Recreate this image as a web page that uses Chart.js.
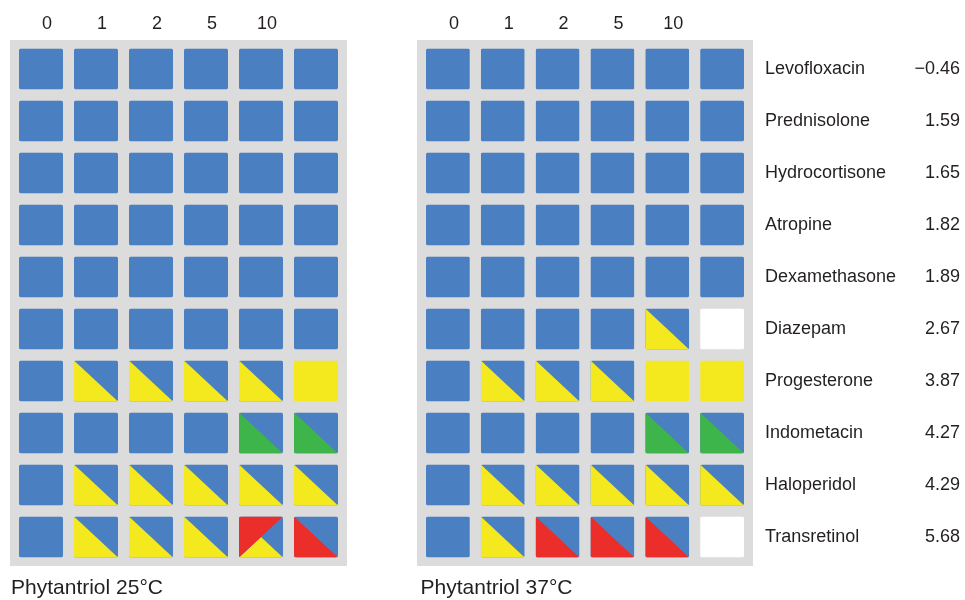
<!DOCTYPE html>
<html>
<head>
<meta charset="utf-8">
<script src="https://cdn.jsdelivr.net/npm/chart.js@4.4.1/dist/chart.umd.min.js"></script>
<style>
  body { margin: 0; background: #fff; }
  .panel { position: absolute; top: 0; height: 600px; }
</style>
</head>
<body>
<div class="panel" style="left:0;width:357px"><canvas id="p25"></canvas></div>
<div class="panel" style="left:400px;width:565px"><canvas id="p37"></canvas></div>
<script>
// column headers (drug concentration)
var concentrations = ["0", "1", "2", "5", "10", ""];
var drugs = [
  "Levofloxacin", "Prednisolone", "Hydrocortisone", "Atropine", "Dexamethasone",
  "Diazepam", "Progesterone", "Indometacin", "Haloperidol", "Transretinol"
];
var logP = ["\u22120.46", "1.59", "1.65", "1.82", "1.89", "2.67", "3.87", "4.27", "4.29", "5.68"];

// phase per cell: B blue, Y yellow/blue, G green/blue, R red/blue,
// Q red/yellow/blue, F all yellow, W white
var phases25 = [
  "BBBBBB", "BBBBBB", "BBBBBB", "BBBBBB", "BBBBBB",
  "BBBBBB", "BYYYYF", "BBBBGG", "BYYYYY", "BYYYQR"
];
var phases37 = [
  "BBBBBB", "BBBBBB", "BBBBBB", "BBBBBB", "BBBBBB",
  "BBBBYW", "BYYYFF", "BBBBGG", "BYYYYY", "BYRRRW"
];

var BLUE = "#4a7fc1", YELLOW = "#f4e91e", GREEN = "#3db54a", RED = "#eb2e2a";
var GRAY = "#dcdcdc", TEXT = "#231f20";
var FONT = "'Liberation Sans', Arial, sans-serif";

// category scales want the label strings, not indices
function toPoints(rows) {
  var pts = [];
  rows.forEach(function (row, r) {
    row.split("").forEach(function (s, c) {
      pts.push({ x: concentrations[c], y: drugs[r], s: s });
    });
  });
  return pts;
}

function tri(ctx, pts, color) {
  ctx.beginPath();
  ctx.moveTo(pts[0][0], pts[0][1]);
  ctx.lineTo(pts[1][0], pts[1][1]);
  ctx.lineTo(pts[2][0], pts[2][1]);
  ctx.closePath();
  ctx.fillStyle = color;
  ctx.fill();
}

function drawCell(ctx, cx, cy, w, h, s) {
  var l = cx - w / 2, t = cy - h / 2, r = cx + w / 2, b = cy + h / 2;
  ctx.save();
  ctx.beginPath();
  ctx.roundRect(l, t, w, h, 2);
  ctx.clip();
  ctx.fillStyle = s === "W" ? "#ffffff" : (s === "F" ? YELLOW : BLUE);
  ctx.fillRect(l, t, w, h);
  if (s === "Y") tri(ctx, [[l, t], [l, b], [r, b]], YELLOW);
  if (s === "G") tri(ctx, [[l, t], [l, b], [r, b]], GREEN);
  if (s === "R") tri(ctx, [[l, t], [l, b], [r, b]], RED);
  if (s === "Q") {
    tri(ctx, [[l, b], [cx, cy], [r, b]], YELLOW);
    tri(ctx, [[l, t], [r, t], [l, b]], RED);
  }
  ctx.restore();
}

var cellPlugin = {
  id: "cells",
  beforeDatasetsDraw: function (chart) {
    var a = chart.chartArea, ctx = chart.ctx;
    ctx.save();
    ctx.fillStyle = GRAY;
    ctx.fillRect(a.left - 3.5, a.top - 3, a.right - a.left + 7, a.bottom - a.top + 6);
    ctx.restore();
  },
  afterDatasetsDraw: function (chart) {
    var xs = chart.scales.x, ys = chart.scales.y;
    var w = Math.abs(xs.getPixelForValue(1) - xs.getPixelForValue(0)) * 0.8;
    var h = Math.abs(ys.getPixelForValue(1) - ys.getPixelForValue(0)) * 0.79;
    var ds = chart.data.datasets[0];
    chart.getDatasetMeta(0).data.forEach(function (pt, i) {
      drawCell(chart.ctx, pt.x, pt.y, w, h, ds.data[i].s);
    });
  }
};

function xAxis() {
  return {
    type: "category",
    labels: concentrations,
    position: "top",
    offset: true,
    grid: { display: false, drawTicks: false },
    border: { display: false },
    ticks: { color: TEXT, font: { family: FONT, size: 18 }, padding: 8.5, maxRotation: 0, labelOffset: 6 },
    afterFit: function (s) { s.height = 43; }
  };
}

function makePanel(id, rows, title, right) {
  var scales = { x: xAxis() };
  if (right) {
    scales.y = {
      type: "category", labels: drugs, position: "right", offset: true, weight: 0,
      grid: { display: false, drawTicks: false }, border: { display: false },
      ticks: { color: TEXT, font: { family: FONT, size: 18 }, padding: 15.5, crossAlign: "near" },
      afterFit: function (s) { s.width = 148.5; }
    };
    scales.y2 = {
      type: "category", labels: logP, position: "right", offset: true, weight: 1,
      grid: { display: false, drawTicks: false }, border: { display: false },
      ticks: { color: TEXT, font: { family: FONT, size: 18 }, padding: 16.5, crossAlign: "far" },
      afterFit: function (s) { s.width = 62; }
    };
  } else {
    scales.y = {
      type: "category", labels: drugs, position: "left", offset: true,
      grid: { display: false, drawTicks: false }, border: { display: false },
      ticks: { display: false },
      afterFit: function (s) { s.width = 2.5; }
    };
  }
  return new Chart(document.getElementById(id), {
    type: "scatter",
    data: {
      datasets: [{ data: toPoints(rows), pointRadius: 0, pointHoverRadius: 0 }]
    },
    options: {
      responsive: true,
      maintainAspectRatio: false,
      animation: false,
      events: [],
      layout: { padding: right ? { left: 20.5, right: 5, top: 0, bottom: 0 } : { left: 11, right: 13.5, top: 0, bottom: 0 } },
      scales: scales,
      plugins: {
        legend: { display: false },
        tooltip: { enabled: false },
        title: {
          display: true,
          text: title,
          position: "bottom",
          align: "start",
          color: TEXT,
          font: { family: FONT, size: 21, weight: "normal", lineHeight: 1 },
          padding: { top: 15, bottom: 1 }
        }
      }
    },
    plugins: [cellPlugin]
  });
}

makePanel("p25", phases25, "Phytantriol 25\u00b0C", false);
makePanel("p37", phases37, "Phytantriol 37\u00b0C", true);
</script>
</body>
</html>
